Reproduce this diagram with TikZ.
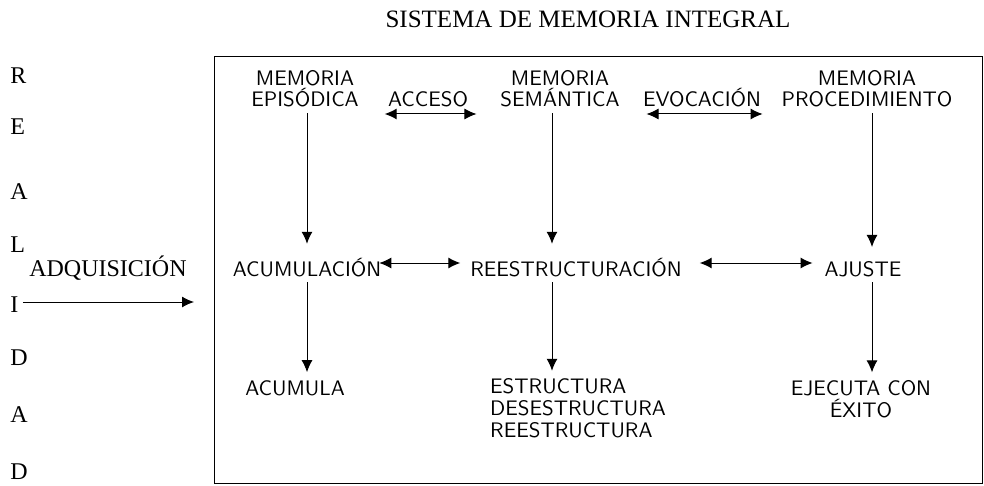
\documentclass[tikz,border=0pt]{standalone}
\usepackage{fontspec}
\setmainfont{Liberation Serif}
\usetikzlibrary{arrows.meta}
\tikzset{
  caja/.style={font=\sffamily\fontsize{10.5}{10.8}\selectfont,align=center,inner sep=0pt,outer sep=0pt,anchor=base},
  letra/.style={font=\fontsize{12}{14}\selectfont,inner sep=0pt},
  flecha/.style={-{Latex[length=6pt,width=5.5pt]}},
  dobleflecha/.style={{Latex[length=6pt,width=5.5pt]}-{Latex[length=6pt,width=5.5pt]}},
}
\begin{document}
\begin{tikzpicture}[x=0.5pt,y=-0.5pt,line width=0.5pt]
\useasboundingbox (0,0) rectangle (984,486);
\node[anchor=base,font=\fontsize{12.5}{15}\selectfont] (titulo) at (588,28) {SISTEMA DE MEMORIA INTEGRAL};
\draw (214,57) rectangle (982,483);
% realidad
\foreach \l/\y [count=\i] in {R/84,E/135,A/200,L/252,I/312,D/365,A/422,D/479}
  \node[letra,anchor=base west] (r\i) at (10,\y) {\l};
\node[letra,anchor=base] (adq) at (108,277) {ADQUISICIÓN};
\coordinate (entrada) at (194,302);
\draw[flecha,shorten <=2pt] (r5.east |- entrada) -- (entrada);
% columnas y filas
\coordinate (c1) at (307,0);
\coordinate (c2) at (552,0);
\coordinate (c3) at (872,0);
\coordinate (f1) at (0,114);
\coordinate (f2) at (0,263);
\node[caja] (epi) at (305,107) {MEMORIA\\EPISÓDICA};
\node[caja] (sem) at (560,107) {MEMORIA\\SEMÁNTICA};
\node[caja] (proc) at (867,107) {MEMORIA\\PROCEDIMIENTO};
\node[caja] (acceso) at (428,107) {ACCESO};
\node[caja] (evoc) at (702,107) {EVOCACIÓN};
\node[caja] (acu) at (307,277) {ACUMULACIÓN};
\node[caja] (ree) at (576,277) {REESTRUCTURACIÓN};
\node[caja] (aju) at (863,277) {AJUSTE};
\node[caja] (acumula) at (295,395) {ACUMULA};
\node[caja,align=left] (estr) at (578,437) {ESTRUCTURA\\DESESTRUCTURA\\REESTRUCTURA};
\node[caja] (ejec) at (861,417) {EJECUTA CON\\ÉXITO};
\draw[dobleflecha,shorten <=13pt,shorten >=12pt] (epi.east |- f1) -- (sem.west |- f1);
\draw[dobleflecha,shorten <=13.5pt,shorten >=9.5pt] (sem.east |- f1) -- (proc.west |- f1);
\draw[dobleflecha,shorten <=-1pt,shorten >=5pt] (acu.east |- f2) -- (ree.west |- f2);
\draw[dobleflecha,shorten <=9pt,shorten >=6pt] (ree.east |- f2) -- (aju.west |- f2);
\draw[flecha,shorten <=3pt,shorten >=7.5pt] (epi.south -| c1) -- (acu.north -| c1);
\draw[flecha,shorten <=3pt,shorten >=7.5pt] (sem.south -| c2) -- (ree.north -| c2);
\draw[flecha,shorten <=3pt,shorten >=7.5pt] (proc.south -| c3) -- (aju.north -| c3);
\draw[flecha,shorten <=2.5pt,shorten >=4pt] (acu.south -| c1) -- (acumula.north -| c1);
\draw[flecha,shorten <=2.5pt,shorten >=4pt] (ree.south -| c2) -- (estr.north -| c2);
\draw[flecha,shorten <=2.5pt,shorten >=4pt] (aju.south -| c3) -- (ejec.north -| c3);
\end{tikzpicture}
\end{document}
